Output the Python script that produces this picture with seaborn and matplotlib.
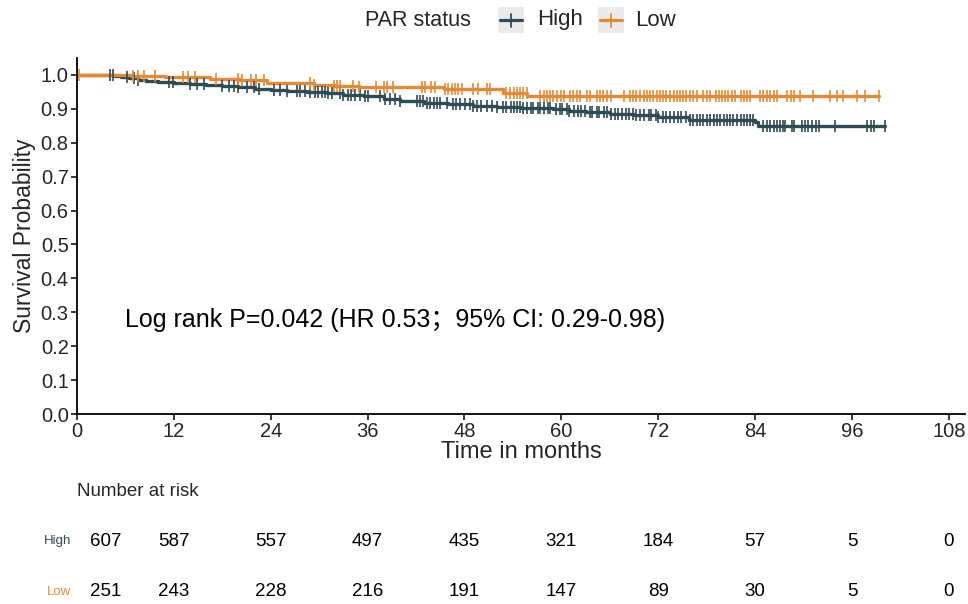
import numpy as np
import pandas as pd
import matplotlib
matplotlib.use("Agg")
import matplotlib.pyplot as plt
import seaborn as sns
from matplotlib.patches import Rectangle
from matplotlib.lines import Line2D
import matplotlib.transforms as mtransforms

# ---------------- data ----------------
groups = ["High", "Low"]
colors = {"High": "#2F4B55", "Low": "#E58A33"}

high_t = [0, 4.7, 5.5, 6.5, 7.5, 8.5, 10, 12, 14, 16, 18, 20, 22, 24, 26, 28.5, 31, 33,
          35.5, 38, 40, 43, 46, 49, 52, 55, 59, 61, 63, 66, 69, 72, 75.8, 84, 84.4]
high_s = [1.0, 0.997, 0.993, 0.990, 0.986, 0.983, 0.980, 0.977, 0.974, 0.971, 0.968, 0.964,
          0.960, 0.957, 0.954, 0.950, 0.946, 0.942, 0.937, 0.930, 0.924, 0.918, 0.913, 0.909,
          0.905, 0.902, 0.899, 0.894, 0.890, 0.886, 0.881, 0.877, 0.868, 0.861, 0.849]
high_end = 100.1

low_t = [0, 6.8, 10.9, 16.5, 20.2, 23.5, 29.3, 31.8, 34.9, 45.4, 52.8, 55.8]
low_s = [1.0, 0.997, 0.993, 0.989, 0.985, 0.977, 0.971, 0.968, 0.964, 0.959, 0.948, 0.938]
low_end = 99.4

high_cens = [4.1, 4.5, 6.2, 7.0, 7.6, 11.4, 11.9, 14.0, 14.9, 15.7, 18.0, 18.8, 19.4, 20.0, 21.1,
             21.9, 22.5, 24.4, 25.2, 26.0, 27.3, 27.6, 28.2, 28.9, 29.5, 29.9, 30.3, 30.7, 31.1,
             31.6, 32.6, 33.0, 33.6, 34.0, 34.4, 35.1, 35.7, 36.1, 37.5, 38.2, 38.8, 39.4, 40.0,
             42.1, 42.5, 42.9, 43.3, 43.7, 44.2, 44.6, 45.0, 45.8, 46.6, 47.0, 47.5, 48.1, 48.7,
             49.1, 49.5, 50.1, 50.8, 51.4, 52.0, 52.8, 53.2, 53.7, 54.1, 54.5, 54.9, 55.3, 55.7,
             56.2, 56.5, 57.1, 57.4, 57.9, 58.3, 58.6, 59.3, 59.8, 60.1, 60.7, 61.0, 61.6, 62.1,
             62.4, 62.9, 63.5, 63.8, 64.4, 64.7, 65.3, 65.6, 66.2, 66.6, 67.0, 67.5, 68.0, 68.4,
             68.9, 69.3, 69.7, 70.2, 70.8, 71.1, 71.7, 72.0, 72.6, 73.0, 73.5, 73.9, 74.5, 74.8,
             75.4, 75.9, 76.3, 76.8, 77.2, 77.6, 78.0, 78.4, 78.9, 79.3, 79.7, 80.1, 80.5, 80.9,
             81.3, 81.7, 82.2, 82.6, 83.0, 83.4, 83.8, 85.0, 85.5, 85.9, 86.3, 86.7, 87.1, 87.5,
             87.7, 88.6, 88.8, 89.8, 90.2, 90.6, 91.0, 91.5, 91.9, 93.9, 97.9, 98.3, 98.7, 100.1]

low_cens = [0.2, 6.9, 7.6, 8.3, 9.7, 13.1, 13.8, 14.6, 17.2, 20.0, 20.4, 21.5, 22.2, 23.2, 28.9,
            29.3, 31.8, 32.2, 32.6, 34.2, 34.9, 37.1, 38.0, 38.4, 39.2, 42.7, 43.1, 43.9, 44.4,
            45.6, 46.0, 46.4, 46.8, 47.2, 47.7, 49.1, 49.7, 50.8, 51.2, 53.2, 53.6, 54.1, 54.5,
            54.9, 55.3, 55.7, 57.4, 57.8, 58.2, 58.6, 59.0, 59.4, 59.9, 60.3, 61.1, 61.5, 61.9,
            62.3, 63.2, 63.6, 64.4, 64.8, 65.2, 65.6, 66.1, 67.7, 68.5, 68.9, 69.3, 69.7, 70.2,
            70.6, 71.0, 71.4, 71.8, 72.2, 72.6, 73.0, 73.5, 73.9, 74.3, 74.7, 75.1, 75.5, 75.9,
            76.3, 76.8, 77.6, 78.0, 78.4, 79.1, 79.5, 79.9, 80.3, 80.7, 81.1, 81.5, 82.2, 82.6,
            83.0, 83.4, 84.6, 85.0, 85.5, 85.9, 86.3, 86.7, 87.9, 88.4, 88.8, 89.6, 91.2, 93.3,
            94.1, 94.9, 96.6, 97.6, 99.4]

risk_times = [0, 12, 24, 36, 48, 60, 72, 84, 96, 108]
high_risk = [607, 587, 557, 497, 435, 321, 184, 57, 5, 0]
low_risk = [251, 243, 228, 216, 191, 147, 89, 30, 5, 0]

x_ticks = [0, 12, 24, 36, 48, 60, 72, 84, 96, 108]
y_ticks = [0.0, 0.1, 0.2, 0.3, 0.4, 0.5, 0.6, 0.7, 0.8, 0.9, 1.0]

annot = "Log rank P=0.042 (HR 0.53\uff1b95% CI: 0.29-0.98)"

# ---------------- build tables ----------------
curves = {"High": (high_t, high_s, high_end, high_cens),
          "Low": (low_t, low_s, low_end, low_cens)}
rows = []
for g in groups:
    t, s, end, _ = curves[g]
    for ti, si in zip(list(t) + [end], list(s) + [s[-1]]):
        rows.append({"time": ti, "surv": si, "group": g})
df = pd.DataFrame(rows)

# ---------------- figure ----------------
sns.set_style("white")
plt.rcParams["font.family"] = ["Liberation Sans", "Noto Sans CJK SC", "DejaVu Sans"]

W, H = 968, 604
fig = plt.figure(figsize=(W / 100, H / 100), dpi=100)
ax = fig.add_axes([77 / W, 1 - 414 / H, 888 / W, 356 / H])

sns.lineplot(data=df, x="time", y="surv", hue="group", hue_order=groups,
             palette=colors, drawstyle="steps-post", estimator=None, sort=False,
             linewidth=2.4, legend=False, ax=ax)

for g in groups:
    t, s, end, cens = curves[g]
    t_arr = np.asarray(t)
    s_arr = np.asarray(s)
    c = np.asarray(cens)
    idx = np.searchsorted(t_arr, c, side="right") - 1
    ax.plot(c, s_arr[idx], ls="none", marker="|", ms=8, mew=1.2,
            color=colors[g], zorder=3 if g == "Low" else 2.5)

ax.set_xlim(0, 110)
ax.set_ylim(0, 1.05)
ax.set_xticks(x_ticks)
ax.set_yticks(y_ticks)
ax.set_yticklabels([f"{v:.1f}" for v in y_ticks])
ax.tick_params(axis="both", labelsize=14.5, length=4, width=1.1, color="black",
               direction="out", pad=2, left=True, bottom=True)
for sp in ["top", "right"]:
    ax.spines[sp].set_visible(False)
for sp in ["left", "bottom"]:
    ax.spines[sp].set_color("black")
    ax.spines[sp].set_linewidth(1.3)
ax.set_xlabel("Time in months", fontsize=17, labelpad=0)
ax.set_ylabel("Survival Probability", fontsize=16.5, labelpad=3)

ax.text(5.9, 0.277, annot, fontsize=18, ha="left", va="center", color="black")

# ---------------- legend (top) ----------------
def fx(px):
    return px / W

def fy(py):
    return 1 - py / H

fig.text(fx(365), fy(20), "PAR status", fontsize=15.5, ha="left", va="center")
for g, bx, tx in [("High", 498, 537), ("Low", 598, 635)]:
    fig.add_artist(Rectangle((fx(bx), fy(33)), 26 / W, 26 / H, transform=fig.transFigure,
                             facecolor="#EBEBEB", edgecolor="none"))
    fig.add_artist(Line2D([fx(bx + 2), fx(bx + 24)], [fy(20), fy(20)], transform=fig.transFigure,
                          color=colors[g], lw=2.3))
    fig.add_artist(Line2D([fx(bx + 13), fx(bx + 13)], [fy(14), fy(27)], transform=fig.transFigure,
                          color=colors[g], lw=1.3))
    fig.text(fx(tx), fy(20), g, fontsize=16, ha="left", va="center")

# ---------------- risk table ----------------
trans = mtransforms.blended_transform_factory(ax.transData, fig.transFigure)
fig.text(fx(77), fy(492), "Number at risk", fontsize=13.5, ha="left", va="center")
for g, counts, py in [("High", high_risk, 541), ("Low", low_risk, 592)]:
    fig.text(fx(71), fy(py), g, fontsize=9.5, ha="right", va="center", color=colors[g])
    for t, n in zip(risk_times, counts):
        xt = max(t, 3.5)
        ax.text(xt, fy(py), str(n), transform=trans, fontsize=13.5, ha="center",
                va="center", color="black", clip_on=False)

fig.savefig("out.png", dpi=100)
